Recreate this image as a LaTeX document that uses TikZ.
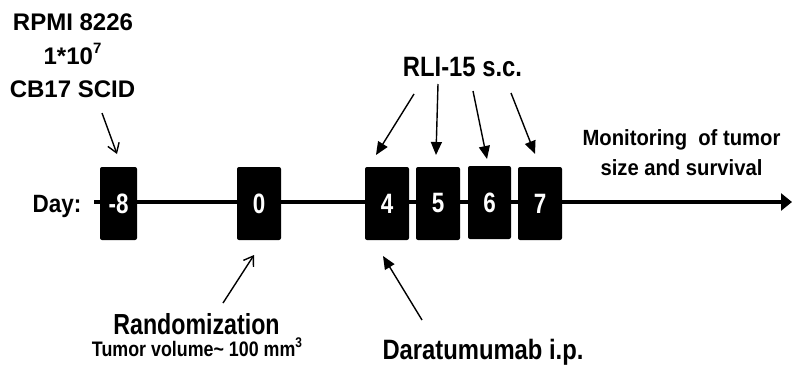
\documentclass[tikz,border=0pt]{standalone}
\usepackage{fontspec}
\setmainfont{Liberation Sans}
\newfontfamily\fS{Liberation Sans}
\newfontfamily\fR{Liberation Sans}[FakeStretch=0.92]
\newfontfamily\fD{Liberation Sans}[FakeStretch=0.90]
\newfontfamily\fN{Liberation Sans}[FakeStretch=0.85]
\newfontfamily\fV{Liberation Sans}[FakeStretch=0.80]
\usetikzlibrary{arrows.meta}
\begin{document}
\begin{tikzpicture}[x=1pt,y=-1pt,
  daybox/.style={fill=black,rounded corners=2pt,minimum height=73pt,inner sep=0pt,text=white,
    font=\fV\bfseries\fontsize{28}{28}\selectfont},
  lbl/.style={anchor=base,inner sep=0pt},
  openarr/.style={line width=1.4pt,-{Straight Barb[length=9pt,width=12pt,line width=1.4pt]}},
  fillarr/.style={line width=1.4pt,-{Triangle[length=13pt,width=11pt]}},
  timeline/.style={line width=4pt,-{Triangle[length=11pt,width=17pt]}}]
\useasboundingbox (0,0) rectangle (792,364);
% timeline
\coordinate (tstart) at (94,202);
\coordinate (tend) at (792,202);
\draw[timeline] (tstart) -- (tend);
% boxes
\node[daybox,minimum width=37pt] (bm8) at (118.5,203.5) {-8};
\node[daybox,minimum width=44pt] (b0) at (259,203.5) {0};
\node[daybox,minimum width=44pt] (b4) at (387,203.5) {4};
\node[daybox,minimum width=44pt] (b5) at (438,203.5) {5};
\node[daybox,minimum width=43pt] (b6) at (489.5,202.5) {6};
\node[daybox,minimum width=44pt] (b7) at (540,203.5) {7};
% Day label
\node[lbl,font=\fD\bfseries\fontsize{25}{25}\selectfont] (day) at (57,212) {Day:};
% top-left text
\node[lbl,font=\fS\bfseries\fontsize{24}{24}\selectfont] (rpmi) at (73,30) {RPMI 8226};
\node[lbl,font=\fS\bfseries\fontsize{24}{24}\selectfont] (cells) at (72.5,64) {1*10\raisebox{0.42em}{\fontsize{15}{15}\selectfont 7}};
\node[lbl,font=\fS\bfseries\fontsize{24}{24}\selectfont] (mouse) at (72.5,97) {CB17 SCID};
% RLI
\node[lbl,font=\fN\bfseries\fontsize{28}{28}\selectfont] (rli) at (462.5,76) {RLI-15 s.c.};
% monitoring
\node[lbl,font=\fR\bfseries\fontsize{22}{22}\selectfont] (mon1) at (681.5,145) {Monitoring\ \ of tumor};
\node[lbl,font=\fR\bfseries\fontsize{22}{22}\selectfont] (mon2) at (681.5,175) {size and survival};
% bottom labels
\node[lbl,font=\fV\bfseries\fontsize{29}{29}\selectfont] (rand) at (196.5,334) {Randomization};
\node[lbl,font=\fN\bfseries\fontsize{21}{21}\selectfont] (tv) at (197,356) {Tumor volume\textasciitilde\ 100 mm\raisebox{0.4em}{\fontsize{14}{14}\selectfont 3}};
\node[lbl,font=\fN\bfseries\fontsize{28}{28}\selectfont] (dara) at (483,359) {Daratumumab i.p.};
% arrow end points
\coordinate (a1s) at (102,113); \coordinate (a1e) at (117,154);
\coordinate (a2s) at (223,303); \coordinate (a2e) at (254,255);
\coordinate (r1s) at (414,94); \coordinate (r1e) at (376,155);
\coordinate (r2s) at (438,84); \coordinate (r2e) at (436,155);
\coordinate (r3s) at (473,91); \coordinate (r3e) at (487,159);
\coordinate (r4s) at (511,93); \coordinate (r4e) at (535,154);
\coordinate (d1s) at (422,320); \coordinate (d1e) at (383,256);
\draw[openarr] (a1s) -- (a1e);
\draw[openarr] (a2s) -- (a2e);
\draw[fillarr] (r1s) -- (r1e);
\draw[fillarr] (r2s) -- (r2e);
\draw[fillarr] (r3s) -- (r3e);
\draw[fillarr] (r4s) -- (r4e);
\draw[fillarr] (d1s) -- (d1e);
\end{tikzpicture}
\end{document}
